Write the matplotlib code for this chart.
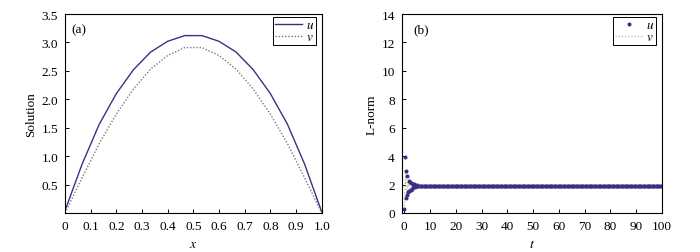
import matplotlib
matplotlib.use("Agg")
import matplotlib.pyplot as plt
import matplotlib.transforms as mtransforms
import numpy as np

plt.rcParams['font.family'] = ['Liberation Serif', 'DejaVu Serif']
plt.rcParams['mathtext.fontset'] = 'stix'

# ---- Panel (a) data ----
x_nodes = [0, 1/15, 2/15, 3/15, 4/15, 5/15, 6/15, 7/15, 8/15, 9/15, 10/15, 11/15, 12/15, 13/15, 14/15, 1.0]
u_sol = [0.04, 0.86, 1.56, 2.10, 2.52, 2.83, 3.02, 3.12, 3.12, 3.02, 2.83, 2.52, 2.10, 1.56, 0.86, 0.02]
v_sol = [0.00, 0.62, 1.22, 1.74, 2.18, 2.53, 2.77, 2.91, 2.91, 2.77, 2.53, 2.18, 1.74, 1.22, 0.62, 0.00]

# ---- Panel (b) data ----
t_early = [0, 0.25, 0.5, 0.75, 1.0, 1.25, 1.5, 1.75, 2.0, 2.25, 2.5, 2.75, 3.0, 3.25,
           3.5, 3.75, 4.0, 4.25, 4.5, 4.75, 5.0]
u_early = [0.28, 3.92, 1.04, 2.98, 1.25, 2.63, 1.45, 2.25, 1.55, 2.20, 1.65, 2.12, 1.72, 2.06,
           1.80, 2.02, 1.85, 1.98, 1.88, 1.96, 1.91]
t_late = [5.5 + 0.5 * i for i in range(190)]
u_late = [1.93] * len(t_late)

t_v = [0, 0.5, 1.0, 1.5, 2.0, 3.0, 4.0, 5.0, 100]
v_norm = [0.25, 2.90, 1.30, 2.20, 1.60, 1.85, 1.72, 1.78, 1.76]

x_ticks = [0, 0.1, 0.2, 0.3, 0.4, 0.5, 0.6, 0.7, 0.8, 0.9, 1.0]
x_ticklabels = ['0', '0.1', '0.2', '0.3', '0.4', '0.5', '0.6', '0.7', '0.8', '0.9', '1.0']
ya_ticks = [0.5, 1.0, 1.5, 2.0, 2.5, 3.0, 3.5]
t_ticks = list(range(0, 101, 10))
yb_ticks = list(range(0, 15, 2))

ucol = '#3d2f86'
vcol_a = '#7a7a7a'
vcol_b = '#c9c2a0'
fs = 9.5

fig = plt.figure(figsize=(7.0, 2.53), dpi=100)
axa = fig.add_axes([65/700, 1-214/253, (321.7-65)/700, (214-15)/253])
axb = fig.add_axes([401.7/700, 1-214/253, (662-401.7)/700, (214-15)/253])

# Panel a
axa.plot(x_nodes, u_sol, color=ucol, lw=1.0, label='$u$')
axa.plot(x_nodes, v_sol, color=vcol_a, lw=1.0, ls=(0, (1, 1.3)), label='$v$')
axa.set_xlim(0, 1)
axa.set_ylim(0, 3.5)
axa.set_xticks(x_ticks)
axa.set_xticklabels(x_ticklabels)
axa.set_yticks(ya_ticks)
axa.set_yticklabels([f'{v:.1f}' for v in ya_ticks])
axa.set_xlabel('$x$', fontsize=fs+0.5, labelpad=4)
axa.set_ylabel('Solution', fontsize=fs, labelpad=3)
axa.text(0.025, 0.955, '(a)', transform=axa.transAxes, fontsize=fs, va='top', ha='left')
lab0 = axa.get_xticklabels()[0]
lab0.set_transform(lab0.get_transform() + mtransforms.ScaledTranslation(-9/100, 0, fig.dpi_scale_trans))

# Panel b
axb.plot(t_v, v_norm, color=vcol_b, lw=1.0, ls=(0, (1, 1.3)), label='$v$')
axb.plot(t_early + t_late, u_early + u_late, ls='none', marker='o', ms=1.9,
         color=ucol, mec=ucol, label='$u$')
axb.set_xlim(-1, 100)
axb.set_ylim(0, 14)
axb.set_xticks(t_ticks)
axb.set_yticks(yb_ticks)
axb.set_xlabel('$t$', fontsize=fs+0.5, labelpad=4)
axb.set_ylabel('L-norm', fontsize=fs, labelpad=3)
axb.text(0.045, 0.955, '(b)', transform=axb.transAxes, fontsize=fs, va='top', ha='left')

for ax in (axa, axb):
    ax.tick_params(direction='in', length=3, width=0.7, labelsize=fs, pad=5)
    for s in ax.spines.values():
        s.set_linewidth(0.8)

# Legends
h, l = axa.get_legend_handles_labels()
axa.legend(h, l, loc='upper right', bbox_to_anchor=(1 - 5.7/256.7, 1 - 3/199),
           borderaxespad=0, fancybox=False, edgecolor='black', framealpha=1,
           fontsize=fs, handlelength=2.0, handletextpad=0.3, borderpad=0.15,
           labelspacing=0.0).get_frame().set_linewidth(0.7)

h, l = axb.get_legend_handles_labels()
axb.legend([h[1], h[0]], [l[1], l[0]], loc='upper right', bbox_to_anchor=(1 - 6/260.3, 1 - 3/199),
           borderaxespad=0, fancybox=False, edgecolor='black', framealpha=1,
           fontsize=fs, handlelength=2.0, handletextpad=0.3, borderpad=0.15,
           labelspacing=0.0, numpoints=1).get_frame().set_linewidth(0.7)

fig.savefig('out.png', dpi=100)
